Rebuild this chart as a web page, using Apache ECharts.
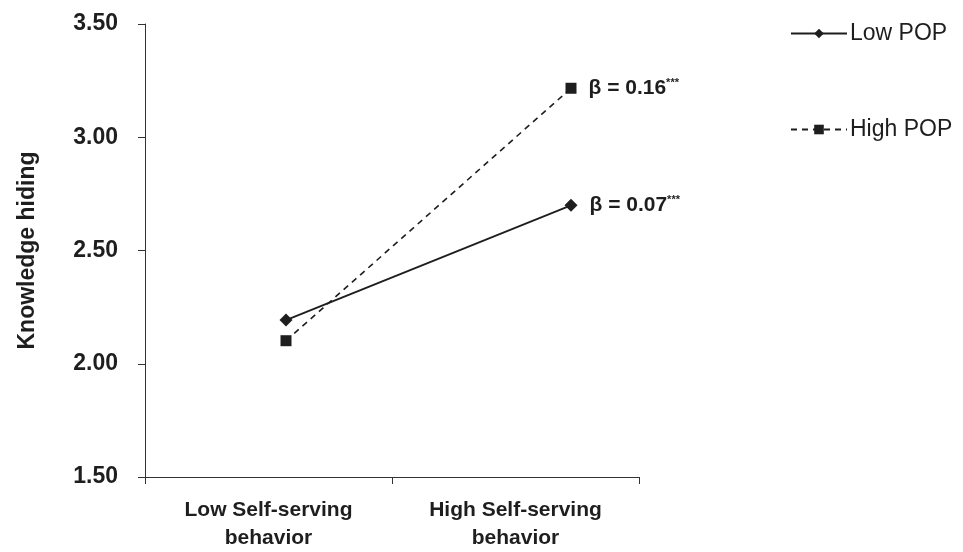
<!DOCTYPE html>
<html>
<head>
<meta charset="utf-8">
<script src="https://cdn.jsdelivr.net/npm/echarts@6/dist/echarts.min.js"></script>
<style>html,body{margin:0;padding:0;background:#fff}#c{width:963px;height:552px}</style>
</head>
<body>
<div id="c"></div>
<script>
const categories = ['Low Self-serving\nbehavior', 'High Self-serving\nbehavior'];
const seriesNames = ['Low POP', 'High POP'];
const lowPOP = [2.21, 2.71];
const highPOP = [2.12, 3.22];
const betaLabels = ['0.07', '0.16'];
const yTicks = { min: 1.5, max: 3.5, interval: 0.5 };

const FONT = '"Liberation Sans", Arial, sans-serif';
const INK = '#1e1e1e';

function endLabel(beta) {
  return {
    show: true,
    position: 'right',
    distance: 12,
    formatter: function (p) {
      return p.dataIndex === 1 ? '{a|β = ' + beta + '}{s|***}' : '';
    },
    rich: {
      a: { fontFamily: FONT, fontWeight: 'bold', fontSize: 21, color: INK },
      s: { fontFamily: FONT, fontWeight: 'bold', fontSize: 11, color: INK, verticalAlign: 'top', padding: [0, 0, 11, 0] }
    }
  };
}

const chart = echarts.init(document.getElementById('c'), null, { renderer: 'canvas' });
chart.setOption({
  backgroundColor: '#fff',
  animation: false,
  textStyle: { fontFamily: FONT },
  grid: [
    { left: 145, right: 324, top: 24, bottom: 69 },
    { left: 286, right: 392, top: 24, bottom: 69 }
  ],
  legend: {
    orient: 'vertical',
    left: 785,
    top: 17,
    itemGap: 73,
    itemWidth: 56,
    itemHeight: 12,
    textStyle: { fontFamily: FONT, fontSize: 23, color: INK, padding: [0, 0, 0, -2] },
    data: seriesNames
  },
  xAxis: [
    {
      type: 'category', gridIndex: 0, data: categories, boundaryGap: true,
      axisLine: { lineStyle: { color: '#333', width: 1 } },
      axisTick: { show: true, length: 7, lineStyle: { color: '#333' } },
      axisLabel: { fontFamily: FONT, fontWeight: 'bold', fontSize: 21, color: INK, lineHeight: 28, margin: 19 }
    },
    {
      type: 'category', gridIndex: 1, data: categories, boundaryGap: false, show: false
    }
  ],
  yAxis: [
    {
      type: 'value', gridIndex: 0, min: yTicks.min, max: yTicks.max, interval: yTicks.interval,
      name: 'Knowledge hiding', nameLocation: 'middle', nameGap: 106,
      nameTextStyle: { fontFamily: FONT, fontWeight: 'bold', fontSize: 23, color: INK },
      axisLine: { show: true, lineStyle: { color: '#333', width: 1 } },
      axisTick: { show: true, length: 7, lineStyle: { color: '#333' } },
      splitLine: { show: false },
      axisLabel: { fontFamily: FONT, fontWeight: 'bold', fontSize: 23, color: INK, margin: 27,
        formatter: function (v) { return v.toFixed(2); } }
    },
    {
      type: 'value', gridIndex: 1, min: yTicks.min, max: yTicks.max, interval: yTicks.interval, show: false
    }
  ],
  series: [
    {
      name: seriesNames[0], type: 'line', xAxisIndex: 1, yAxisIndex: 1, data: lowPOP,
      symbol: 'diamond', symbolSize: 13,
      itemStyle: { color: INK },
      lineStyle: { color: INK, width: 1.8, type: 'solid' },
      label: endLabel(betaLabels[0])
    },
    {
      name: seriesNames[1], type: 'line', xAxisIndex: 1, yAxisIndex: 1, data: highPOP,
      symbol: 'rect', symbolSize: 11,
      itemStyle: { color: INK },
      lineStyle: { color: INK, width: 1.6, type: [6, 5] },
      label: endLabel(betaLabels[1])
    }
  ]
});
</script>
</body>
</html>
